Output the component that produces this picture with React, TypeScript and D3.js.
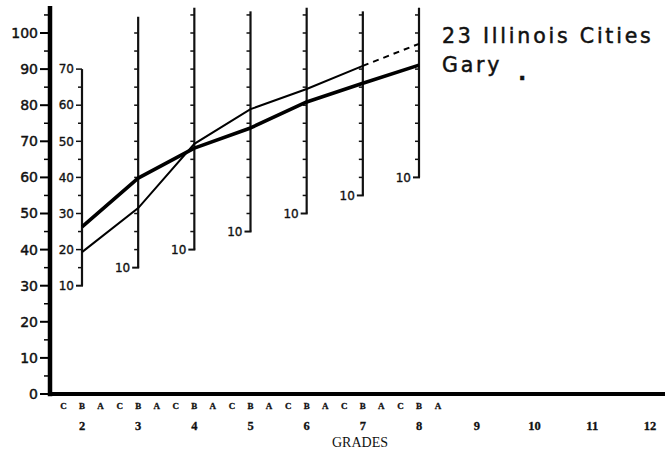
import * as d3 from "d3";
import { useEffect, useRef } from "react";

// grades along the bottom; per-grade score bars only for 2..8
const grades = [2, 3, 4, 5, 6, 7, 8, 9, 10, 11, 12];
const barGrades = [2, 3, 4, 5, 6, 7, 8];
const subLetters = ["C", "B", "A"];
const yTicks = [0, 10, 20, 30, 40, 50, 60, 70, 80, 90, 100];

// each grade bar: where its "10" sits on the main scale, and where the bar ends (main scale)
const barBase = [30, 35, 40, 45, 50, 55, 60];
const barTop = [90, 104.5, 107, 106, 107, 106, 107];

// medians read on the main scale
const illinois = [39.3, 51.5, 69.3, 78.9, 84.5, 90.9, 97.0];
const gary = [46.3, 59.8, 68.1, 73.7, 80.9, 86.1, 91.1];

const legendNames = ["23 Illinois Cities", "Gary"];

export default function App() {
  const ref = useRef<SVGSVGElement>(null);

  useEffect(() => {
    const width = 665;
    const height = 451;
    const svg = d3.select(ref.current);
    svg.selectAll("*").remove();
    svg.attr("width", width).attr("height", height);

    svg.append("rect").attr("width", width).attr("height", height).attr("fill", "#fff");

    const y = d3.scaleLinear().domain([0, 100]).range([394, 33]);
    const x = d3.scaleLinear().domain([2, 8, 12]).range([82, 419, 650]);
    const handFont = "DejaVu Sans, sans-serif";
    const serif = "Liberation Serif, serif";

    /* ---------------- GRADE BARS ---------------- */
    barGrades.forEach((g, i) => {
      const offset = barBase[i] - 10;
      const bx = x(g);
      const topVal = barTop[i] - offset;
      const bs = (v: number) => y(v + offset);
      const gBar = svg.append("g");

      gBar.append("line")
        .attr("x1", bx).attr("x2", bx)
        .attr("y1", bs(topVal)).attr("y2", bs(10))
        .attr("stroke", "#111").attr("stroke-width", 2.2);

      const ticks = d3.range(15, topVal + 0.01, 5);
      gBar.selectAll("line.tick")
        .data(ticks)
        .enter()
        .append("line")
        .attr("class", "tick")
        .attr("x1", d => bx - (i === 0 && d % 10 === 0 ? 6 : 4))
        .attr("x2", bx)
        .attr("y1", d => bs(d)).attr("y2", d => bs(d))
        .attr("stroke", "#111").attr("stroke-width", 1.5);

      // bottom L-shaped tick
      gBar.append("line")
        .attr("x1", bx - 6).attr("x2", bx + 1)
        .attr("y1", bs(10)).attr("y2", bs(10))
        .attr("stroke", "#111").attr("stroke-width", 2);

      const labels = i === 0 ? d3.range(10, 71, 10) : [10];
      gBar.selectAll("text")
        .data(labels)
        .enter()
        .append("text")
        .attr("x", bx - 8)
        .attr("y", d => bs(d))
        .attr("dy", "0.35em")
        .attr("text-anchor", "end")
        .attr("font-family", handFont)
        .attr("font-size", 12)
        .attr("fill", "#111")
        .attr("stroke", "#111")
        .attr("stroke-width", 0.35)
        .text(d => d);
    });

    /* ---------------- LINES ---------------- */
    const line = d3.line<number>()
      .x((_, i) => x(barGrades[i]))
      .y(d => y(d));

    svg.append("path")
      .attr("d", line(gary))
      .attr("fill", "none")
      .attr("stroke", "#000")
      .attr("stroke-width", 3.6)
      .attr("stroke-linejoin", "round");

    const solidPart = illinois.slice(0, 6);
    svg.append("path")
      .attr("d", line(solidPart))
      .attr("fill", "none")
      .attr("stroke", "#000")
      .attr("stroke-width", 2);

    const dashed = d3.line<number>()
      .x((_, i) => x(barGrades[5 + i]))
      .y(d => y(d));
    svg.append("path")
      .attr("d", dashed(illinois.slice(5)))
      .attr("fill", "none")
      .attr("stroke", "#000")
      .attr("stroke-width", 2)
      .attr("stroke-dasharray", "6,5");

    /* ---------------- MAIN AXES ---------------- */
    const axisX = 50;
    svg.append("line")
      .attr("x1", axisX).attr("x2", axisX)
      .attr("y1", y(107.5)).attr("y2", y(-0.6))
      .attr("stroke", "#000").attr("stroke-width", 4.5);

    svg.append("line")
      .attr("x1", axisX - 2).attr("x2", width)
      .attr("y1", y(0)).attr("y2", y(0))
      .attr("stroke", "#000").attr("stroke-width", 4);

    const minor = d3.range(5, 106, 10);
    svg.selectAll("line.minor")
      .data(minor)
      .enter()
      .append("line")
      .attr("class", "minor")
      .attr("x1", axisX - 6).attr("x2", axisX)
      .attr("y1", d => y(d)).attr("y2", d => y(d))
      .attr("stroke", "#000").attr("stroke-width", 1.5);

    svg.selectAll("line.major")
      .data(yTicks)
      .enter()
      .append("line")
      .attr("class", "major")
      .attr("x1", axisX - 10).attr("x2", axisX)
      .attr("y1", d => y(d)).attr("y2", d => y(d))
      .attr("stroke", "#000").attr("stroke-width", 2);

    svg.selectAll("text.ylab")
      .data(yTicks)
      .enter()
      .append("text")
      .attr("class", "ylab")
      .attr("x", axisX - 12)
      .attr("y", d => y(d))
      .attr("dy", "0.35em")
      .attr("text-anchor", "end")
      .attr("font-family", handFont)
      .attr("font-size", 14)
      .attr("fill", "#111")
      .attr("stroke", "#111")
      .attr("stroke-width", 0.45)
      .text(d => d);

    /* ---------------- BOTTOM LABELS ---------------- */
    const letterData = barGrades.flatMap(g =>
      subLetters.map((l, k) => ({ l, pos: g + (k - 1) * 0.33 }))
    );
    svg.selectAll("text.abc")
      .data(letterData)
      .enter()
      .append("text")
      .attr("class", "abc")
      .attr("x", d => x(d.pos))
      .attr("y", 408.5)
      .attr("text-anchor", "middle")
      .attr("font-family", serif)
      .attr("font-weight", "bold")
      .attr("font-size", 9)
      .attr("fill", "#111")
      .attr("stroke", "#111")
      .attr("stroke-width", 0.3)
      .text(d => d.l);

    svg.selectAll("text.grade")
      .data(grades)
      .enter()
      .append("text")
      .attr("class", "grade")
      .attr("x", d => x(d))
      .attr("y", 430)
      .attr("text-anchor", "middle")
      .attr("font-family", serif)
      .attr("font-weight", "bold")
      .attr("font-size", 12.5)
      .attr("fill", "#111")
      .attr("stroke", "#111")
      .attr("stroke-width", 0.3)
      .text(d => d);

    svg.append("text")
      .attr("x", 360)
      .attr("y", 447)
      .attr("text-anchor", "middle")
      .attr("font-family", serif)
      .attr("font-size", 14)
      .attr("fill", "#111")
      .text("GRADES");

    /* ---------------- LEGEND ---------------- */
    svg.append("text")
      .attr("x", 442).attr("y", 43)
      .attr("font-family", handFont)
      .attr("font-size", 20.5)
      .attr("letter-spacing", 2.8)
      .attr("fill", "#111")
      .attr("stroke", "#111")
      .attr("stroke-width", 0.5)
      .text(legendNames[0]);

    const gTxt = svg.append("text")
      .attr("x", 442).attr("y", 72)
      .attr("font-family", handFont)
      .attr("font-size", 20.5)
      .attr("letter-spacing", 2.8)
      .attr("fill", "#111")
      .attr("stroke", "#111")
      .attr("stroke-width", 0.5);
    gTxt.append("tspan").text(legendNames[1]);
    gTxt.append("tspan")
      .attr("dx", 16).attr("dy", 8)
      .attr("font-weight", "bold")
      .text(".");
  }, []);

  return (
    <div style={{ position: "absolute", left: 0, top: 0 }}>
      <svg ref={ref} style={{ display: "block" }} />
    </div>
  );
}
